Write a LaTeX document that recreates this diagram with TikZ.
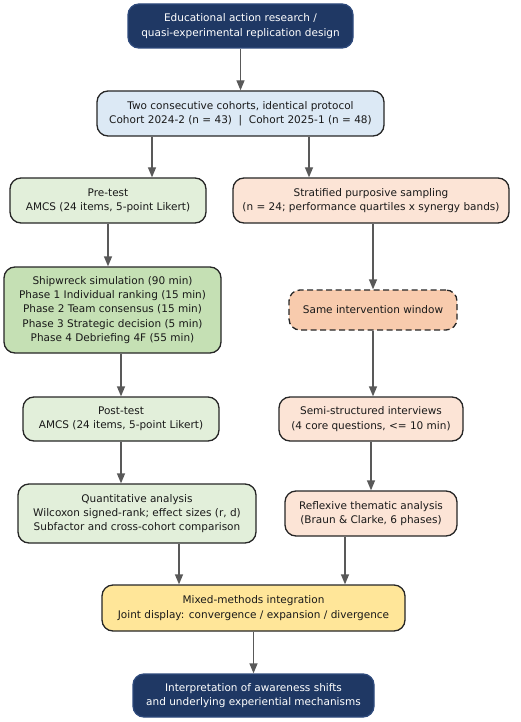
\documentclass[tikz,border=0pt]{standalone}
\usepackage{fontspec}
\setmainfont{DejaVu Sans}
\usetikzlibrary{arrows.meta,positioning}

\definecolor{navy}{HTML}{1F3864}
\definecolor{navyline}{HTML}{2E4A7C}
\definecolor{cohortblue}{HTML}{DCE9F5}
\definecolor{quantgreen}{HTML}{E2EFDA}
\definecolor{simgreen}{HTML}{C5E0B4}
\definecolor{qualpeach}{HTML}{FCE4D6}
\definecolor{windowpeach}{HTML}{F8CBAD}
\definecolor{mixyellow}{HTML}{FFE699}
\definecolor{arrowgray}{HTML}{595959}
\definecolor{boxline}{HTML}{262626}

\tikzset{
	stage/.style={shape=rectangle,rounded corners=11pt,draw=boxline,line width=1.3pt,
		align=center,inner sep=2pt,text=black!90,font=\fontsize{10.5}{14.3}\selectfont},
	darkstage/.style={stage,fill=navy,draw=navyline,text=white},
	flow/.style={draw=arrowgray,line width=1.3pt,-{Triangle[length=10pt,width=8pt]}}
}

\begin{document}
\begin{tikzpicture}[x=1pt,y=-1pt]
	\useasboundingbox (0,0) rectangle (520,722);

	\node[darkstage,minimum width=225pt,minimum height=44pt] (top) at (240.5,26)
		{Educational action research /\\quasi-experimental replication design};
	\node[stage,fill=cohortblue,minimum width=287pt,minimum height=45pt] (cohort) at (240.5,113.5)
		{Two consecutive cohorts, identical protocol\\Cohort 2024-2 (n = 43) \ | \ Cohort 2025-1 (n = 48)};

	% quantitative strand
	\node[stage,fill=quantgreen,minimum width=196pt,minimum height=45pt] (pre) at (108,200.5)
		{Pre-test\\AMCS (24 items, 5-point Likert)};
	\node[stage,fill=simgreen,minimum width=217pt,minimum height=86pt] (ship) at (112.5,310)
		{Shipwreck simulation (90 min)\\Phase 1 Individual ranking (15 min)\\Phase 2 Team consensus (15 min)\\Phase 3 Strategic decision (5 min)\\Phase 4 Debriefing 4F (55 min)};
	\node[stage,fill=quantgreen,minimum width=196pt,minimum height=44pt] (post) at (121,419)
		{Post-test\\AMCS (24 items, 5-point Likert)};
	\node[stage,fill=quantgreen,minimum width=238pt,minimum height=59pt] (quant) at (137,513.5)
		{Quantitative analysis\\Wilcoxon signed-rank; effect sizes (r, d)\\Subfactor and cross-cohort comparison};

	% qualitative strand
	\node[stage,fill=qualpeach,minimum width=276pt,minimum height=45pt] (strat) at (371,200.5)
		{Stratified purposive sampling\\(n = 24; performance quartiles x synergy bands)};
	\node[stage,fill=windowpeach,dash pattern=on 6pt off 3.5pt,minimum width=168pt,minimum height=40pt] (same) at (373,310)
		{Same intervention window};
	\node[stage,fill=qualpeach,minimum width=184pt,minimum height=44pt] (semi) at (371,419)
		{Semi-structured interviews\\(4 core questions, <= 10 min)};
	\node[stage,fill=qualpeach,minimum width=172pt,minimum height=45pt] (refl) at (371,513.5)
		{Reflexive thematic analysis\\(Braun \& Clarke, 6 phases)};

	\node[stage,fill=mixyellow,minimum width=303pt,minimum height=46pt] (mixed) at (253.5,608)
		{Mixed-methods integration\\Joint display: convergence / expansion / divergence};
	\node[darkstage,minimum width=241pt,minimum height=43pt] (final) at (253.5,695.5)
		{Interpretation of awareness shifts\\and underlying experiential mechanisms};

	\coordinate (xl) at (152,0);
	\coordinate (xr) at (309,0);
	\coordinate (xq) at (179,0);
	\coordinate (xt) at (345,0);

	\foreach \from/\to/\via in {top/cohort/top,cohort/pre/xl,cohort/strat/xr,
		pre/ship/pre,ship/post/post,post/quant/post,quant/mixed/xq,
		strat/same/same,same/semi/same,semi/refl/semi,refl/mixed/xt,mixed/final/mixed}
		\draw[flow] (\from.south -| \via) -- (\to.north -| \via);
\end{tikzpicture}
\end{document}
